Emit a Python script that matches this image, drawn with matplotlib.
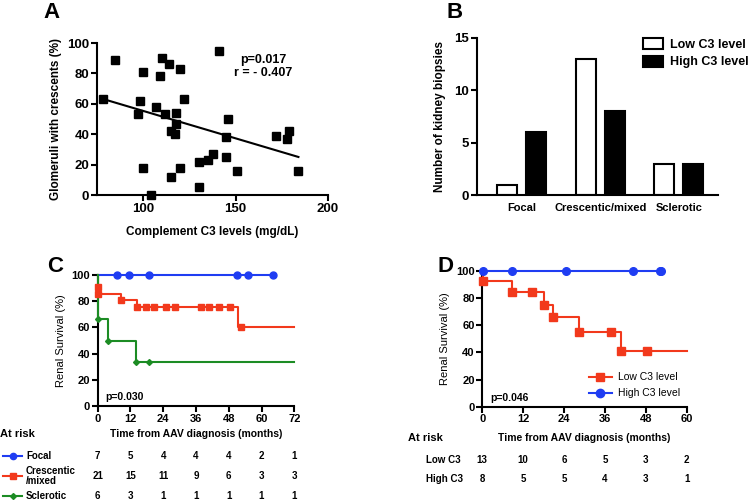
import matplotlib
matplotlib.use("Agg")
import matplotlib.pyplot as plt
import matplotlib.transforms as mtransforms
import numpy as np

plt.rcParams['font.family'] = ['Liberation Sans', 'DejaVu Sans']
plt.rcParams['font.weight'] = 'bold'
plt.rcParams['axes.labelweight'] = 'bold'
plt.rcParams['axes.linewidth'] = 1.5

BLUE = '#1f3df2'
RED = '#f2391c'
GREEN = '#1c8c24'

# panel A: complement C3 vs % crescents
c3_level = [78, 85, 97, 98, 100, 100, 104, 107, 109, 110, 112, 114, 115, 115, 117,
            118, 118, 120, 120, 122, 130, 130, 135, 138, 141, 145, 145, 146, 151,
            172, 178, 179, 184]
crescents = [63, 89, 53, 62, 81, 18, 0, 58, 78, 90, 53, 86, 42, 12, 40,
             54, 47, 83, 18, 63, 22, 5, 23, 27, 95, 38, 25, 50, 16,
             39, 37, 42, 16]

# panel B: biopsy class counts
classes = ['Focal', 'Crescentic/mixed', 'Sclerotic']
low_c3_counts = [1, 13, 3]
high_c3_counts = [6, 8, 3]

# panel C: renal survival by biopsy class (step times / survival, censor marks)
c_focal_t = [0]
c_focal_s = [100]
c_focal_end = 64.3
c_focal_mark_t = [7.0, 11.6, 18.8, 51.1, 54.9, 64.3]
c_focal_mark_s = [100, 100, 100, 100, 100, 100]

c_cres_t = [0, 0, 0, 8.5, 14.5, 51.5]
c_cres_s = [100, 90.5, 85.7, 80.9, 75.6, 60.5]
c_cres_end = 72
c_cres_mark_t = [0, 0, 8.5, 14.5, 17.6, 20.6, 24.9, 28.3, 37.8, 40.7, 44.3, 48.4, 52.4]
c_cres_mark_s = [90.5, 85.7, 80.9, 75.6, 75.6, 75.6, 75.6, 75.6, 75.6, 75.6, 75.6, 75.6, 60.5]

c_scl_t = [0, 0, 3.7, 13.9]
c_scl_s = [100, 66.7, 50, 33.3]
c_scl_end = 72
c_scl_mark_t = [0, 3.7, 13.9, 18.9]
c_scl_mark_s = [66.7, 50, 33.3, 33.3]

c_risk_times = [0, 12, 24, 36, 48, 60, 72]
c_risk_focal = [7, 5, 4, 4, 4, 2, 1]
c_risk_cres = [21, 15, 11, 9, 6, 3, 3]
c_risk_scl = [6, 3, 1, 1, 1, 1, 1]

# panel D: renal survival by C3 level
d_low_t = [0, 0.3, 8.8, 18.1, 20.8, 28.4, 40.7]
d_low_s = [100, 92.3, 84.6, 75.2, 65.8, 54.8, 41.1]
d_low_end = 60
d_low_mark_t = [0.3, 8.8, 14.7, 18.1, 20.8, 28.4, 37.9, 40.7, 48.4]
d_low_mark_s = [92.3, 84.6, 84.6, 75.2, 65.8, 54.8, 54.8, 41.1, 41.1]

d_high_t = [0]
d_high_s = [100]
d_high_end = 52.9
d_high_mark_t = [0.3, 8.7, 24.7, 44.3, 52.1, 52.6]
d_high_mark_s = [100, 100, 100, 100, 100, 100]

d_risk_times = [0, 12, 24, 36, 48, 60]
d_risk_low = [13, 10, 6, 5, 3, 2]
d_risk_high = [8, 5, 5, 4, 3, 1]

W, H = 750, 501


def px_axes(fig, left, top, right, bottom):
    return fig.add_axes([left / W, 1 - bottom / H, (right - left) / W, (bottom - top) / H])


def style_axes(ax, size=9.5):
    ax.spines['top'].set_visible(False)
    ax.spines['right'].set_visible(False)
    ax.tick_params(direction='out', length=4, width=1.5, labelsize=size, pad=1.5)


def km_curve(ax, t, s, t_end, color, marker, mt, ms, msize):
    ax.step(list(t) + [t_end], list(s) + [s[-1]], where='post', color=color,
            lw=1.5, clip_on=False, zorder=3)
    ax.plot(mt, ms, ls='none', marker=marker, color=color, ms=msize,
            clip_on=False, zorder=4)


fig = plt.figure(figsize=(W / 100, H / 100), dpi=100)

# ---- A ----
axA = px_axes(fig, 97, 43, 328, 195)
style_axes(axA)
axA.plot(c3_level, crescents, 's', color='black', ms=6, clip_on=False, zorder=3)
slope, icpt = np.polyfit(c3_level, crescents, 1)
xfit = np.array([min(c3_level), max(c3_level)])
axA.plot(xfit, icpt + slope * xfit, color='black', lw=1.5)
axA.set_xlim(75, 200)
axA.set_ylim(0, 100)
axA.set_xticks([100, 150, 200])
axA.set_yticks(range(0, 101, 20))
axA.set_xlabel('Complement C3 levels (mg/dL)', fontsize=8.5, labelpad=8)
axA.set_ylabel('Glomeruli with crescents (%)', fontsize=8.5, labelpad=4)
axA.text(0.72, 0.93, 'p=0.017\nr = - 0.407', transform=axA.transAxes,
         ha='center', va='top', fontsize=9, linespacing=1.2)

# ---- B ----
axB = px_axes(fig, 477, 38, 718, 195)
style_axes(axB)
xpos = np.arange(len(classes))
bw = 0.255
axB.bar(xpos - 0.187, low_c3_counts, bw, color='white', edgecolor='black', lw=1.5,
        label='Low C3 level')
axB.bar(xpos + 0.187, high_c3_counts, bw, color='black', edgecolor='black', lw=1.5,
        label='High C3 level')
axB.set_xlim(-0.57, 2.5)
axB.set_ylim(0, 15)
axB.set_yticks([0, 5, 10, 15])
axB.set_xticks(xpos)
axB.set_xticklabels(classes, fontsize=8)
axB.tick_params(axis='x', length=0, pad=6)
axB.set_ylabel('Number of kidney biopsies', fontsize=8.5, labelpad=6)
axB.legend(loc='upper left', bbox_to_anchor=(0.67, 1.03), frameon=False, fontsize=9,
           handlelength=1.6, handleheight=1.0, handletextpad=0.5, labelspacing=0.35,
           borderaxespad=0)

# ---- C ----
axC = px_axes(fig, 97.7, 275, 294.3, 406)
style_axes(axC, 8)
km_curve(axC, c_focal_t, c_focal_s, c_focal_end, BLUE, 'o', c_focal_mark_t, c_focal_mark_s, 5)
km_curve(axC, c_cres_t, c_cres_s, c_cres_end, RED, 's', c_cres_mark_t, c_cres_mark_s, 4.5)
km_curve(axC, c_scl_t, c_scl_s, c_scl_end, GREEN, 'D', c_scl_mark_t, c_scl_mark_s, 3)
axC.set_xlim(0, 72)
axC.set_ylim(0, 100)
axC.set_xticks(range(0, 73, 12))
axC.set_yticks(range(0, 101, 20))
axC.set_ylabel('Renal Survival (%)', fontsize=8, fontweight='normal', labelpad=4)
axC.text(0.04, 0.03, 'p=0.030', transform=axC.transAxes, fontsize=7.5, va='bottom')

# ---- D ----
axD = px_axes(fig, 482.3, 271, 686.7, 406.7)
style_axes(axD, 8)
km_curve(axD, d_low_t, d_low_s, d_low_end, RED, 's', d_low_mark_t, d_low_mark_s, 5.5)
km_curve(axD, d_high_t, d_high_s, d_high_end, BLUE, 'o', d_high_mark_t, d_high_mark_s, 5.5)
axD.set_xlim(0, 60)
axD.set_ylim(0, 100)
axD.set_xticks(range(0, 61, 12))
axD.set_yticks(range(0, 101, 20))
axD.set_ylabel('Renal Survival (%)', fontsize=8, fontweight='normal', labelpad=4)
axD.text(0.04, 0.03, 'p=0.046', transform=axD.transAxes, fontsize=7.5, va='bottom')
hl = [plt.Line2D([], [], color=RED, marker='s', ms=6, lw=1.5),
      plt.Line2D([], [], color=BLUE, marker='o', ms=6, lw=1.5)]
axD.legend(hl, ['Low C3 level', 'High C3 level'], loc='lower left',
           bbox_to_anchor=(0.5, 0.03), frameon=False, fontsize=7.5,
           handlelength=2.2, handletextpad=0.6, labelspacing=0.6, borderaxespad=0)
for lt in axD.get_legend().get_texts():
    lt.set_fontweight('normal')

# ---- at risk tables ----
def fig_y(y):
    return 1 - y / H


fig.text(0 / W, fig_y(434), 'At risk', fontsize=8, va='center', ha='left')
fig.text(196 / W, fig_y(434), 'Time from AAV diagnosis (months)', fontsize=7.5,
         va='center', ha='center')
trC = mtransforms.blended_transform_factory(axC.transData, fig.transFigure)
rows_c = [(c_risk_focal, 'Focal', BLUE, 'o', 456, 4.5),
          (c_risk_cres, 'Crescentic\n/mixed', RED, 's', 476, 4),
          (c_risk_scl, 'Sclerotic', GREEN, 'D', 496, 3)]
for vals, name, col, mk, yy, msz in rows_c:
    for t, v in zip(c_risk_times, vals):
        fig.text(t, fig_y(yy), str(v), transform=trC, fontsize=7, ha='center', va='center')
    fig.lines.append(plt.Line2D([3 / W, 22 / W], [fig_y(yy)] * 2, color=col, lw=1.5,
                                transform=fig.transFigure))
    fig.lines.append(plt.Line2D([12.5 / W], [fig_y(yy)], color=col, marker=mk, ms=msz,
                                transform=fig.transFigure))
    fig.text(26 / W, fig_y(yy), name, fontsize=7, ha='left', va='center', linespacing=1.1)

fig.text(408 / W, fig_y(438), 'At risk', fontsize=8, va='center', ha='left')
fig.text(584.5 / W, fig_y(438), 'Time from AAV diagnosis (months)', fontsize=7.5,
         va='center', ha='center')
trD = mtransforms.blended_transform_factory(axD.transData, fig.transFigure)
for vals, name, yy in [(d_risk_low, 'Low C3', 460), (d_risk_high, 'High C3', 479)]:
    for t, v in zip(d_risk_times, vals):
        fig.text(t, fig_y(yy), str(v), transform=trD, fontsize=7, ha='center', va='center')
    fig.text(426 / W, fig_y(yy), name, fontsize=7, ha='left', va='center')

# panel letters
for letter, x, y in [('A', 52, 13), ('B', 455, 13), ('C', 55, 266), ('D', 445, 266)]:
    fig.text(x / W, fig_y(y), letter, fontsize=16, ha='center', va='center')

fig.savefig('out.png', dpi=100)
